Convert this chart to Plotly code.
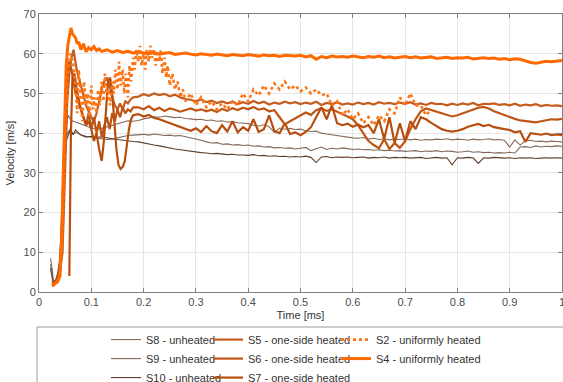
import plotly.graph_objects as go

# ---------------- data ----------------
t_late = [0.19, 0.20, 0.21, 0.22, 0.23, 0.24, 0.25, 0.26, 0.27, 0.28,
          0.29, 0.30, 0.31, 0.32, 0.33, 0.34, 0.35, 0.36, 0.37, 0.38,
          0.39, 0.40, 0.41, 0.42, 0.43, 0.44, 0.45, 0.46, 0.47, 0.48,
          0.49, 0.50, 0.51, 0.52, 0.53, 0.54, 0.55, 0.56, 0.57, 0.58,
          0.59, 0.60, 0.61, 0.62, 0.63, 0.64, 0.65, 0.66, 0.67, 0.68,
          0.69, 0.70, 0.71, 0.72, 0.73, 0.74, 0.75, 0.76, 0.77, 0.78,
          0.79, 0.80, 0.81, 0.82, 0.83, 0.84, 0.85, 0.86, 0.87, 0.88,
          0.89, 0.90, 0.91, 0.92, 0.93, 0.94, 0.95, 0.96, 0.97, 0.98,
          0.99, 1.00]

# unheated (shared early time base)
t_unheated_early = [0.022, 0.025, 0.028, 0.032, 0.036, 0.04, 0.044, 0.048, 0.052, 0.056,
                    0.06, 0.065, 0.07, 0.08, 0.09, 0.1, 0.11, 0.12, 0.13, 0.14,
                    0.15, 0.16, 0.17, 0.18]
s8_early = [8.5, 6, 2, 3, 5, 9, 20, 34, 42, 44.5,
            43.5, 43, 42.8, 42.2, 41.8, 41.3, 41, 41.2, 41.6, 42,
            42.4, 42.8, 43.1, 43.0]
s8_late = [43.2, 43.6, 43.9, 44.1, 44.0, 44.3, 44.1, 43.9, 44.0, 43.7,
           43.6, 43.4, 43.5, 43.2, 43.3, 43.0, 43.1, 42.8, 42.9, 42.6,
           42.5, 42.4, 42.0, 41.8, 42.1, 41.6, 40.2, 41.3, 41.0, 41.2,
           40.9, 41.0, 40.6, 40.4, 40.5, 40.0, 39.8, 39.6, 39.3, 39.1,
           38.9, 38.8, 38.7, 38.9, 38.5, 38.7, 38.4, 38.6, 38.3, 38.5,
           38.4, 38.6, 38.3, 38.5, 38.2, 38.4, 38.3, 38.5, 38.4, 38.6,
           38.3, 38.5, 38.4, 38.2, 38.5, 38.3, 38.4, 38.6, 38.3, 38.4,
           38.2, 36.5, 38.3, 37.0, 38.1, 38.2, 37.9, 38.0, 37.8, 38.0,
           37.9, 37.8]
s9_early = [7, 5, 2.5, 3, 4.5, 8, 18, 32, 39, 40.5,
            40, 39.8, 40.2, 39.6, 39.2, 39.0, 38.8, 38.6, 38.4, 38.5,
            38.8, 39.2, 39.4, 39.5]
s9_late = [39.6, 39.7, 39.5, 39.8, 39.6, 39.4, 39.5, 39.3, 39.4, 39.1,
           38.9, 38.6, 38.2, 37.8, 37.5, 37.6, 37.2, 37.3, 37.0, 37.1,
           36.9, 37.0, 36.7, 36.8, 36.5, 36.6, 36.3, 36.4, 36.2, 36.3,
           36.0, 36.2, 36.4, 35.6, 36.1, 36.5, 35.9, 36.2, 36.0, 36.3,
           36.1, 35.9, 36.0, 35.8, 35.9, 35.7, 35.8, 35.6, 35.7, 35.5,
           35.6, 35.4, 35.5, 35.6, 35.3, 35.5, 35.4, 35.6, 35.3, 35.5,
           35.4, 35.2, 35.3, 35.5, 35.2, 35.3, 35.1, 35.2, 35.0, 35.1,
           35.0, 35.2, 35.0, 36.5, 36.6, 36.4, 36.8, 36.5, 36.7, 36.6,
           36.8, 36.7]
s10_early = [6, 4, 1.5, 2.5, 4, 7, 16, 30, 38, 39.5,
             41.2, 39.6, 40.8, 39.5, 39.0, 39.2, 38.9, 39.1, 38.8, 38.6,
             38.4, 38.2, 38.0, 37.9]
s10_late = [37.8, 37.5, 37.3, 37.0, 36.8, 36.5, 36.3, 36.0, 35.8, 35.6,
            35.4, 35.3, 35.1, 35.0, 34.8, 34.9, 34.7, 34.6, 34.7, 34.5,
            34.5, 34.4, 34.6, 34.3, 34.4, 34.2, 34.3, 34.1, 34.2, 34.0,
            34.1, 34.0, 34.2, 33.9, 32.6, 34.0, 34.1, 33.8, 34.0, 33.9,
            34.0, 33.8, 33.9, 34.0, 33.7, 33.9, 33.8, 34.0, 33.7, 33.9,
            33.8, 33.9, 33.7, 33.8, 33.9, 33.6, 33.8, 33.9, 33.7, 33.8,
            32.0, 33.8, 33.7, 33.9, 33.8, 32.4, 33.8, 33.7, 33.9, 33.8,
            33.7, 33.8, 33.6, 33.8, 33.7, 33.8, 33.6, 33.7, 33.8, 33.7,
            33.8, 33.7]

# one-side heated
t5_early = [0.025, 0.03, 0.035, 0.04, 0.045, 0.05, 0.054, 0.058, 0.062, 0.066,
            0.069, 0.072, 0.076, 0.08, 0.085, 0.09, 0.095, 0.1, 0.105, 0.11,
            0.115, 0.12, 0.125, 0.13, 0.135, 0.14, 0.145, 0.15, 0.155, 0.16,
            0.165, 0.17, 0.175, 0.18]
s5_early = [2.5, 2, 3, 5, 10, 32, 48, 55, 59, 61,
            58, 56, 54, 52, 49, 47, 45.5, 44, 43, 45,
            48, 51, 53, 54, 52, 49, 47, 46, 47.5, 46,
            48, 47.5, 48.5, 49]
s5_late = [49.2, 49.8, 49.4, 50.0, 49.6, 49.9, 49.3, 49.7, 49.0, 48.6,
           48.4, 48.0, 48.5, 47.8, 48.2, 47.6, 48.0, 47.5, 47.9, 47.3,
           47.8, 47.4, 48.1, 47.5, 47.9, 47.2, 47.7, 47.4, 47.9, 47.5,
           47.8, 47.3, 47.7, 47.4, 47.9, 47.1, 47.6, 47.3, 47.8, 47.2,
           47.5, 47.2, 47.7, 47.3, 47.6, 47.2, 47.8, 47.4, 47.6, 47.3,
           47.7, 47.4, 47.8, 47.2, 47.5, 47.1, 47.6, 47.3, 47.4, 47.0,
           47.4, 47.1, 47.5, 47.2, 47.6, 47.0, 47.4, 47.3, 47.5, 47.1,
           47.3, 47.0, 47.4, 46.9, 47.2, 47.0, 47.3, 46.8, 47.1, 46.9,
           47.0, 46.8]

t6_early = [0.025, 0.03, 0.035, 0.04, 0.045, 0.05, 0.054, 0.058, 0.062, 0.066,
            0.07, 0.075, 0.08, 0.085, 0.09, 0.095, 0.1, 0.105, 0.11, 0.115,
            0.12, 0.125, 0.13, 0.135, 0.14, 0.145, 0.15, 0.155, 0.16, 0.165,
            0.17, 0.175, 0.18]
s6_early = [3, 2.5, 3.5, 6, 22, 45, 55, 58, 56, 53,
            50, 48, 46, 44, 42, 45, 41, 44, 40, 43,
            39, 42, 44, 41, 45, 43, 46, 44, 46.5, 45,
            46, 45.5, 46.5]
s6_late = [46.5, 46.0, 46.8, 45.8, 46.4, 45.6, 46.2, 45.9, 45.4, 45.8,
           46.2, 45.7, 46.0, 45.5, 45.9, 45.3, 46.1, 45.6, 46.3, 45.8,
           46.4, 46.0, 46.6, 45.9, 46.2, 45.5, 45.8, 44.0, 42.2, 43.0,
           43.8, 44.5, 45.2, 44.6, 45.8, 46.3, 45.6, 46.0, 45.4, 45.0,
           44.2, 43.5, 42.0, 40.0, 38.0, 37.0, 36.2, 38.5, 36.0, 37.5,
           36.3, 38.0, 41.0, 43.5, 45.5, 46.2, 45.8, 45.5, 45.0, 44.6,
           44.2, 44.5, 45.0, 45.6, 46.0, 46.4, 46.6, 46.2, 45.5, 45.0,
           44.4, 44.0, 43.6, 43.2, 43.0, 42.8, 42.7, 43.0, 43.3, 43.5,
           43.4, 43.6]

t7_early = [0.058, 0.061, 0.064, 0.068, 0.072, 0.076, 0.08, 0.085, 0.09, 0.095,
            0.1, 0.105, 0.11, 0.115, 0.12, 0.124, 0.128, 0.132, 0.136, 0.14,
            0.144, 0.148, 0.152, 0.156, 0.16, 0.164, 0.168, 0.172, 0.176, 0.18]
s7_early = [4, 40, 54, 55, 51, 48, 46, 44, 42, 43,
            41, 38, 40, 36, 33, 38, 47, 53, 54, 50,
            43, 36, 32, 31, 31.5, 33, 37, 41, 43.5, 44.5]
s7_late = [44.8, 44.2, 44.6, 43.8, 43.5, 43.0, 42.6, 42.0, 41.5, 41.0,
           40.6, 41.2, 40.3, 41.8, 40.5, 40.0, 42.0, 40.4, 43.0, 40.2,
           41.5, 40.6, 43.5, 40.3, 41.0, 44.5, 40.5, 40.0, 42.5, 39.8,
           40.2, 39.5, 40.3, 41.5, 44.0, 46.5, 43.5, 47.0, 42.5, 42.0,
           42.4, 41.6, 42.2, 41.5, 42.0, 40.0, 43.5, 38.5, 44.0, 37.5,
           42.5, 38.0, 43.0, 41.0, 44.0, 43.5, 42.6, 41.8, 41.0, 40.6,
           40.4, 40.6, 41.0, 41.6, 42.0, 42.3, 41.8, 42.1, 41.5, 41.2,
           41.0, 40.8, 40.2, 40.5, 37.8, 40.0, 39.8, 39.6, 39.9, 39.5,
           39.7, 39.5]

# uniformly heated
t2 = [0.025, 0.03, 0.035, 0.04, 0.045, 0.05, 0.055, 0.06, 0.065, 0.07,
      0.073, 0.076, 0.08, 0.083, 0.086, 0.09, 0.093, 0.096, 0.1, 0.103,
      0.106, 0.11, 0.113, 0.116, 0.12, 0.123, 0.126, 0.13, 0.133, 0.136,
      0.14, 0.143, 0.146, 0.15, 0.153, 0.156, 0.16, 0.163, 0.166, 0.17,
      0.173, 0.176, 0.18, 0.183, 0.186, 0.19, 0.193, 0.196, 0.2, 0.203,
      0.206, 0.21, 0.213, 0.216, 0.22, 0.223, 0.226, 0.23, 0.233, 0.236,
      0.24, 0.243, 0.246, 0.25, 0.255, 0.26, 0.265, 0.27, 0.275, 0.28,
      0.29, 0.30, 0.31, 0.32, 0.33, 0.34, 0.35, 0.36, 0.37, 0.38,
      0.39, 0.40, 0.41, 0.42, 0.43, 0.44, 0.45, 0.46, 0.47, 0.48,
      0.49, 0.50, 0.51, 0.52, 0.53, 0.54, 0.55, 0.56, 0.57, 0.58,
      0.59, 0.60, 0.61, 0.62, 0.63, 0.64, 0.65, 0.66, 0.67, 0.68,
      0.69, 0.70, 0.71, 0.72, 0.73, 0.74, 0.75]
s2 = [1.5, 2, 2.5, 4, 15, 40, 55, 60, 58, 52,
      45, 56, 48, 43, 53, 47, 50, 44, 52, 46,
      49, 45, 51, 47, 53, 48, 55, 49, 51, 47,
      53, 50, 56, 51, 58, 52, 56, 50, 55, 49,
      57, 53, 59, 56, 61, 58, 62, 57, 60, 56,
      61, 58, 62, 59, 61, 57, 60, 58, 61, 55,
      59, 54, 57, 52, 55, 51, 53, 49, 51, 48,
      50, 47, 49, 46.5, 48, 46, 47.5, 46, 48, 47,
      50, 48, 51, 49.5, 52, 50, 52.5, 51, 53, 51,
      52, 50.5, 51.5, 50, 51, 49.5, 50, 47, 48, 44.5,
      46, 43.5, 45, 42.5, 44, 42, 44.5, 43, 46, 45,
      49, 47, 50, 47, 47, 44.5, 46]

t4_early = [0.025, 0.03, 0.035, 0.04, 0.043, 0.046, 0.049, 0.052, 0.055, 0.058,
            0.061, 0.064, 0.067, 0.07, 0.073, 0.076, 0.08, 0.085, 0.09, 0.095,
            0.1, 0.105, 0.11, 0.115, 0.12, 0.13, 0.14, 0.15, 0.16, 0.17,
            0.18]
s4_early = [1.5, 2.0, 2.5, 4, 12, 28, 45, 57, 62, 64,
            66.5, 65, 64.5, 64, 62.5, 63, 61, 62.5, 60.5, 61.5,
            61, 61.8, 60.8, 61.2, 60.6, 61, 60.4, 60.8, 60.3, 60.6,
            60.2]
s4_late = [60.4, 60.2, 60.0, 60.3, 59.9, 60.1, 60.3, 59.8, 60.0, 60.2,
           59.9, 59.7, 60.0, 59.8, 59.6, 59.9, 59.7, 59.5, 59.8, 59.6,
           59.5, 59.8, 59.6, 59.4, 59.7, 59.5, 59.6, 59.3, 59.6, 59.5,
           59.4, 59.6, 59.2, 59.5, 58.6, 59.3, 59.0, 59.4, 59.2, 59.3,
           59.1, 59.4, 59.2, 59.0, 59.3, 59.1, 59.4, 59.0, 59.2, 58.9,
           59.1, 59.3, 59.0, 59.2, 58.9, 59.1, 59.2, 58.8, 59.0, 59.1,
           58.8, 59.0, 58.9, 59.1, 58.7, 58.9, 59.0, 58.8, 58.9, 58.6,
           58.8, 58.5, 58.7, 58.6, 58.2, 57.8, 57.6, 57.9, 58.1, 58.0,
           58.2, 58.3]

x_ticks = [0, 0.1, 0.2, 0.3, 0.4, 0.5, 0.6, 0.7, 0.8, 0.9, 1]
y_ticks = [0, 10, 20, 30, 40, 50, 60, 70]

# ---------------- checks ----------------
for a, b in [(t_unheated_early, s8_early), (t_unheated_early, s9_early),
             (t_unheated_early, s10_early), (t5_early, s5_early), (t6_early, s6_early),
             (t7_early, s7_early), (t2, s2), (t4_early, s4_early),
             (t_late, s8_late), (t_late, s9_late), (t_late, s10_late),
             (t_late, s5_late), (t_late, s6_late), (t_late, s7_late), (t_late, s4_late)]:
    assert len(a) == len(b), (len(a), len(b))

FONT = "Liberation Sans, Arial, sans-serif"

series = [
    # name, x, y, color, width, dash, legend
    ("S8 - unheated", t_unheated_early + t_late, s8_early + s8_late, "#8a6a58", 1.1, "solid", "legend"),
    ("S9 - unheated", t_unheated_early + t_late, s9_early + s9_late, "#7f6a5e", 1.1, "solid", "legend"),
    ("S10 - unheated", t_unheated_early + t_late, s10_early + s10_late, "#5e3d2a", 1.1, "solid", "legend"),
    ("S5 - one-side heated", t5_early + t_late, s5_early + s5_late, "#c45c1e", 2.2, "solid", "legend2"),
    ("S6 - one-side heated", t6_early + t_late, s6_early + s6_late, "#bf5514", 2.2, "solid", "legend2"),
    ("S7 - one-side heated", t7_early + t_late, s7_early + s7_late, "#b84e0e", 2.2, "solid", "legend2"),
    ("S2 - uniformly heated", t2, s2, "#ff7414", 2.6, "dot", "legend3"),
    ("S4 - uniformly heated", t4_early + t_late, s4_early + s4_late, "#ff6a00", 3.0, "solid", "legend3"),
]

fig = go.Figure()
for name, xs, ys, col, w, dash, lg in series:
    fig.add_trace(go.Scatter(x=xs, y=ys, mode="lines", name=name,
                             line=dict(color=col, width=w, dash=dash),
                             legend=lg))

axis_common = dict(showgrid=True, gridcolor="#e6e6e6", gridwidth=1,
                   showline=True, linecolor="#808080", linewidth=1, mirror="ticks",
                   ticks="inside", ticklen=4, tickcolor="#808080",
                   zeroline=False, tickfont=dict(family=FONT, size=11, color="#4d4d4d"))

fig.update_layout(
    width=563, height=382,
    margin=dict(l=39, r=1, t=14, b=90, autoexpand=False),
    paper_bgcolor="white", plot_bgcolor="white",
    font=dict(family=FONT, size=11, color="#4d4d4d"),
    xaxis=dict(range=[0, 1], tickvals=x_ticks, ticktext=[str(v) for v in x_ticks],
               ticklabeloverflow="allow",
               title=dict(text="Time [ms]", font=dict(family=FONT, size=11, color="#333333"), standoff=4),
               **axis_common),
    yaxis=dict(range=[0, 70], tickvals=y_ticks,
               title=dict(text="Velocity [m/s]", font=dict(family=FONT, size=11, color="#333333"), standoff=6),
               **axis_common),
    showlegend=True,
)

leg_common = dict(orientation="v", xanchor="left", yanchor="top", y=-0.119,
                  bgcolor="rgba(0,0,0,0)", borderwidth=0, itemwidth=30,
                  tracegroupgap=0, font=dict(family=FONT, size=11, color="#333333"),
                  itemclick=False, itemdoubleclick=False)
fig.update_layout(
    legend=dict(x=(106 - 39) / 523, **leg_common),
    legend2=dict(x=(208 - 39) / 523, **leg_common),
    legend3=dict(x=(336 - 39) / 523, **leg_common),
)

# legend frame
fig.add_shape(type="rect", xref="paper", yref="paper",
              x0=(37 - 39) / 523, x1=1.2, y0=-0.5, y1=(292 - 327) / 278,
              line=dict(color="#9a9a9a", width=1), fillcolor="rgba(0,0,0,0)", layer="below")

fig.write_html("out.html", config={"responsive": False, "displayModeBar": False},
               post_script="document.body.style.margin='0';document.body.style.overflow='hidden';")
